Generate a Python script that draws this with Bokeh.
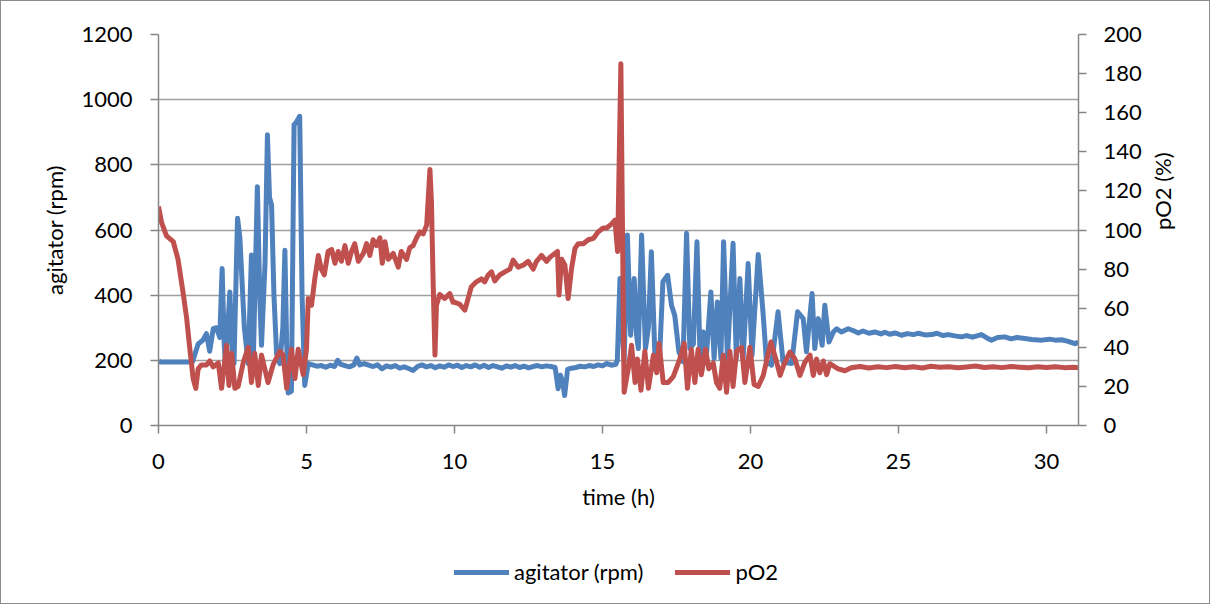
import math
from bokeh.plotting import figure
from bokeh.layouts import column
from bokeh.models import Range1d, LinearAxis, Legend, LegendItem, FixedTicker, ColumnDataSource
from bokeh.embed import file_html
from bokeh.resources import INLINE

# ---------------- data ----------------
t_agit = [0.0, 0.05, 0.5, 1.0, 1.15, 1.25, 1.34, 1.5, 1.62, 1.73, 1.85, 1.96, 2.07, 2.15, 2.22, 2.26,
          2.34, 2.41, 2.5, 2.55, 2.67, 2.75, 2.9, 3.03, 3.1, 3.14, 3.2, 3.34, 3.42, 3.48, 3.6, 3.68,
          3.75, 3.82, 3.9, 3.99, 4.1, 4.2, 4.27, 4.33, 4.38, 4.49, 4.58, 4.65, 4.77, 4.85, 4.94,
          5.06, 5.2, 5.35, 5.5, 5.65, 5.8, 5.95, 6.05, 6.15, 6.3, 6.45, 6.6, 6.7, 6.8, 6.95, 7.1,
          7.25, 7.4, 7.55, 7.7, 7.85, 8.0, 8.15, 8.3, 8.45, 8.6, 8.75, 8.9, 9.05, 9.2, 9.35, 9.5,
          9.65, 9.8, 9.95, 10.1, 10.25, 10.4, 10.55, 10.7, 10.85, 11.0, 11.15, 11.3, 11.45, 11.6,
          11.75, 11.9, 12.05, 12.2, 12.35, 12.5, 12.65, 12.8, 12.95, 13.1, 13.25, 13.4, 13.5,
          13.58, 13.66, 13.72, 13.82, 13.95, 14.1, 14.25, 14.4, 14.55, 14.7, 14.85, 15.0, 15.15,
          15.3, 15.45, 15.5, 15.59, 15.66, 15.73, 15.84, 15.95, 16.07, 16.15, 16.21, 16.32, 16.45,
          16.55, 16.65, 16.77, 16.93, 17.04, 17.2, 17.33, 17.44, 17.58, 17.72, 17.84, 17.95, 18.07,
          18.19, 18.3, 18.4, 18.52, 18.66, 18.77, 18.88, 19.0, 19.09, 19.22, 19.41, 19.52, 19.64,
          19.75, 19.92, 20.05, 20.26, 20.43, 20.54, 20.71, 20.93, 21.1, 21.39, 21.59, 21.78, 21.89,
          22.08, 22.17, 22.29, 22.42, 22.51, 22.65, 22.8, 22.91, 23.07, 23.3, 23.5, 23.64, 23.8,
          24.0, 24.2, 24.4, 24.54, 24.7, 24.88, 25.1, 25.3, 25.5, 25.66, 25.9, 26.12, 26.3, 26.5,
          26.68, 26.9, 27.13, 27.3, 27.5, 27.8, 28.0, 28.14, 28.35, 28.59, 28.8, 29.0, 29.27, 29.5,
          29.84, 30.1, 30.3, 30.5, 30.7, 30.96, 31.07]
agit = [200, 195, 195, 195, 196, 225, 250, 262, 282, 228, 297, 300, 270, 482, 250, 190,
        300, 410, 200, 190, 636, 575, 300, 190, 400, 523, 190, 733, 400, 246, 500, 892,
        700, 677, 400, 220, 190, 300, 538, 250, 100, 105, 923, 930, 949, 400, 123,
        190, 186, 182, 184, 179, 185, 181, 200, 188, 184, 180, 186, 207, 186, 190, 185,
        181, 186, 174, 183, 179, 184, 176, 180, 175, 169, 181, 186, 180, 184, 177, 183,
        179, 186, 181, 185, 178, 184, 180, 186, 179, 185, 178, 184, 180, 176,
        183, 179, 184, 178, 182, 177, 181, 184, 180, 183, 181, 178, 113,
        154, 130, 92, 172, 176, 178, 182, 180, 184, 181, 186, 183, 190,
        185, 188, 200, 451, 300, 200, 585, 277, 451, 277, 236, 585, 236,
        300, 533, 215, 215, 441, 461, 369, 338, 226, 196, 590, 236, 250,
        564, 196, 287, 226, 410, 206, 379, 206, 564, 206, 559, 206, 451,
        206, 497, 215, 525, 338, 195, 185, 349, 195, 190, 349, 328, 226,
        405, 236, 328, 246, 369, 256, 287, 297, 287, 297, 290, 284, 290,
        283, 287, 281, 286, 280, 284, 277, 282, 279, 283, 278, 279, 283, 276,
        279, 275, 272, 276, 271, 279, 268, 262, 270, 272, 266, 270, 267, 264,
        262, 265, 262, 263, 259, 251, 256]

t_po2 = [0.0, 0.1, 0.27, 0.5, 0.66, 0.83, 0.95, 1.06, 1.17, 1.26, 1.34, 1.45, 1.62, 1.73, 1.85,
         2.02, 2.13, 2.3, 2.38, 2.47, 2.58, 2.69, 2.86, 3.03, 3.14, 3.25, 3.37, 3.48, 3.7, 3.87,
         4.1, 4.21, 4.33, 4.49, 4.61, 4.72, 4.89, 5.0, 5.06, 5.17, 5.28, 5.4, 5.5, 5.6, 5.73,
         5.85, 5.96, 6.07, 6.18, 6.3, 6.41, 6.52, 6.63, 6.75, 6.92, 7.03, 7.14, 7.25, 7.36, 7.48,
         7.56, 7.65, 7.76, 7.93, 8.1, 8.2, 8.38, 8.49, 8.6, 8.72, 8.83, 8.94, 9.06, 9.17, 9.22,
         9.28, 9.34, 9.39, 9.5, 9.67, 9.84, 9.95, 10.01, 10.18, 10.35, 10.46, 10.57, 10.74,
         10.91, 11.02, 11.14, 11.25, 11.36, 11.53, 11.7, 11.87, 11.98, 12.15, 12.32, 12.49,
         12.66, 12.77, 12.94, 13.11, 13.22, 13.39, 13.48, 13.53, 13.62, 13.73, 13.84, 13.95,
         14.07, 14.18, 14.35, 14.52, 14.69, 14.85, 15.02, 15.14, 15.3, 15.42, 15.51, 15.62,
         15.73, 15.87, 15.98, 16.1, 16.18, 16.3, 16.43, 16.55, 16.72, 16.83, 16.91, 17.05,
         17.22, 17.39, 17.61, 17.76, 17.87, 18.0, 18.12, 18.23, 18.34, 18.48, 18.59, 18.74,
         18.85, 18.96, 19.08, 19.19, 19.3, 19.41, 19.53, 19.7, 19.81, 19.98, 20.12, 20.26,
         20.43, 20.69, 20.88, 21.0, 21.12, 21.33, 21.5, 21.67, 21.84, 22.01, 22.12, 22.23,
         22.34, 22.46, 22.57, 22.68, 22.85, 22.96, 23.19, 23.4, 23.7, 24.0, 24.3, 24.6, 24.9,
         25.2, 25.5, 25.8, 26.1, 26.4, 26.7, 27.0, 27.3, 27.6, 27.9, 28.2, 28.5, 28.8, 29.1,
         29.4, 29.7, 30.0, 30.3, 30.6, 30.9, 31.07]
po2 = [112, 104, 97, 94, 85, 68, 55, 39, 24, 19, 29, 31, 31, 33, 30,
       32, 19, 41, 20.5, 37, 19, 20, 32, 40, 22, 37, 20.5, 36, 22, 31,
       38, 36, 19, 39, 24, 39, 26, 39, 65, 61.5, 75, 87, 80, 77, 89,
       90, 83, 89, 84, 92, 83, 89, 93, 84, 88, 93, 87, 95, 92, 96,
       83, 94, 85, 88, 81, 89, 85, 91, 92, 96, 99, 98, 102.5, 131, 114.5,
       72, 36, 61.5, 67, 65, 67.5, 63, 63, 62, 59, 65, 71, 73.5,
       75, 73.5, 77, 78.6, 74, 77, 78.6, 80, 84.6, 81, 82, 84,
       80, 84, 87, 84, 86, 88, 89, 66.7, 85, 82, 65, 80,
       90.6, 93, 93, 95, 95.7, 99, 101, 101, 103, 105, 89, 185,
       17, 29, 41, 22, 34, 18, 38, 19, 36, 27, 42, 22,
       22, 25, 34, 42, 19, 39, 22, 39, 26, 39, 29, 32,
       22, 19, 36, 17, 38, 20, 38, 40, 22, 40, 21, 20,
       25.6, 42.7, 32.5, 25.6, 30.8, 37.6, 34, 25.6, 32.5, 36, 25.6, 34,
       27, 33, 26, 31.6, 30, 29, 28, 29.5, 30.2, 29.4, 30.1, 29.6, 30.2,
       29.5, 30.0, 29.4, 30.3, 29.8, 30.1, 29.5, 29.9, 30.4, 29.7, 30.0, 29.6, 30.2, 29.8,
       29.5, 30.0, 29.7, 30.1, 29.6, 29.8, 29.6]

series_names = ["agitator (rpm)", "pO2"]
x_ticks = [0, 5, 10, 15, 20, 25, 30]
y_ticks = [0, 200, 400, 600, 800, 1000, 1200]
y2_ticks = [0, 20, 40, 60, 80, 100, 120, 140, 160, 180, 200]

src_agit = ColumnDataSource(data=dict(t=t_agit, v=agit))
src_po2 = ColumnDataSource(data=dict(t=t_po2, v=po2))

# ---------------- figure ----------------
W = 1210
H1, H2 = 530, 74
FONT = "Lato"
AX = "#868686"
BLUE, RED = "#4F81BD", "#C0504D"
BORDER = "1px solid #8c8c8c"

p = figure(width=W, height=H1, output_backend="svg", toolbar_location=None,
           x_range=Range1d(0, 31.08), y_range=Range1d(0, 1200),
           min_border_left=157, min_border_right=W - 1077,
           min_border_top=33, min_border_bottom=H1 - 424)
p.outline_line_color = None
p.background_fill_color = "white"
p.border_fill_color = "white"
p.extra_y_ranges = {"po2": Range1d(0, 200)}

p.xgrid.visible = False
p.ygrid.ticker = FixedTicker(ticks=y_ticks)
p.ygrid.grid_line_color = "#a0a0a0"
p.ygrid.grid_line_width = 1.4

xaxis = p.xaxis[0]
yaxis = p.yaxis[0]
xaxis.ticker = FixedTicker(ticks=x_ticks)
yaxis.ticker = FixedTicker(ticks=y_ticks)
xaxis.axis_label = "time (h)"
yaxis.axis_label = "agitator (rpm)"

right = LinearAxis(y_range_name="po2", ticker=FixedTicker(ticks=y2_ticks),
                   axis_label="pO2 (%)", axis_label_orientation=math.pi / 2)
p.add_layout(right, "right")

for ax in [xaxis, yaxis, right]:
    ax.axis_line_color = AX
    ax.axis_line_width = 1.5
    ax.major_tick_line_color = AX
    ax.major_tick_line_width = 1.5
    ax.major_tick_out = 8
    ax.major_tick_in = 0
    ax.minor_tick_line_color = None
    ax.major_label_text_font = FONT
    ax.major_label_text_font_size = "22px"
    ax.major_label_text_color = "black"
    ax.axis_label_text_font = FONT
    ax.axis_label_text_font_size = "22px"
    ax.axis_label_text_font_style = "normal"
    ax.axis_label_text_color = "black"

xaxis.major_label_standoff = 20
xaxis.axis_label_standoff = 11
yaxis.major_label_standoff = 18
yaxis.axis_label_standoff = 10
right.major_label_standoff = 17
right.axis_label_standoff = 18

p.line("t", "v", source=src_agit, line_color=BLUE, line_width=5, line_join="round")
p.line("t", "v", source=src_po2, line_color=RED, line_width=5, line_join="round",
       y_range_name="po2")

# ---------------- legend strip (same series, outside its own view) ----------------
leg = figure(width=W, height=H2, output_backend="svg", toolbar_location=None,
             x_range=Range1d(0, 31.08), y_range=Range1d(-2, -1),
             min_border_left=0, min_border_right=0, min_border_top=0, min_border_bottom=0)
leg.axis.visible = False
leg.grid.visible = False
leg.outline_line_color = None
leg.background_fill_color = "white"
leg.border_fill_color = "white"
l1 = leg.line("t", "v", source=src_agit, line_color=BLUE, line_width=5, line_cap="round")
l2 = leg.line("t", "v", source=src_po2, line_color=RED, line_width=5, line_cap="round")
legend = Legend(items=[LegendItem(label=series_names[0], renderers=[l1]),
                       LegendItem(label=series_names[1], renderers=[l2])],
                orientation="horizontal", location=(296, 19),
                border_line_color=None, background_fill_alpha=0,
                label_text_font=FONT, label_text_font_size="22px",
                label_text_color="black",
                glyph_width=55, glyph_height=20, label_standoff=5, spacing=32,
                padding=0, margin=0)
leg.add_layout(legend, "center")

p.styles = {"border-top": BORDER, "border-left": BORDER, "border-right": BORDER}
leg.styles = {"border-bottom": BORDER, "border-left": BORDER, "border-right": BORDER}

layout = column(p, leg, spacing=0)
open("out.html", "w").write(file_html(layout, INLINE))
